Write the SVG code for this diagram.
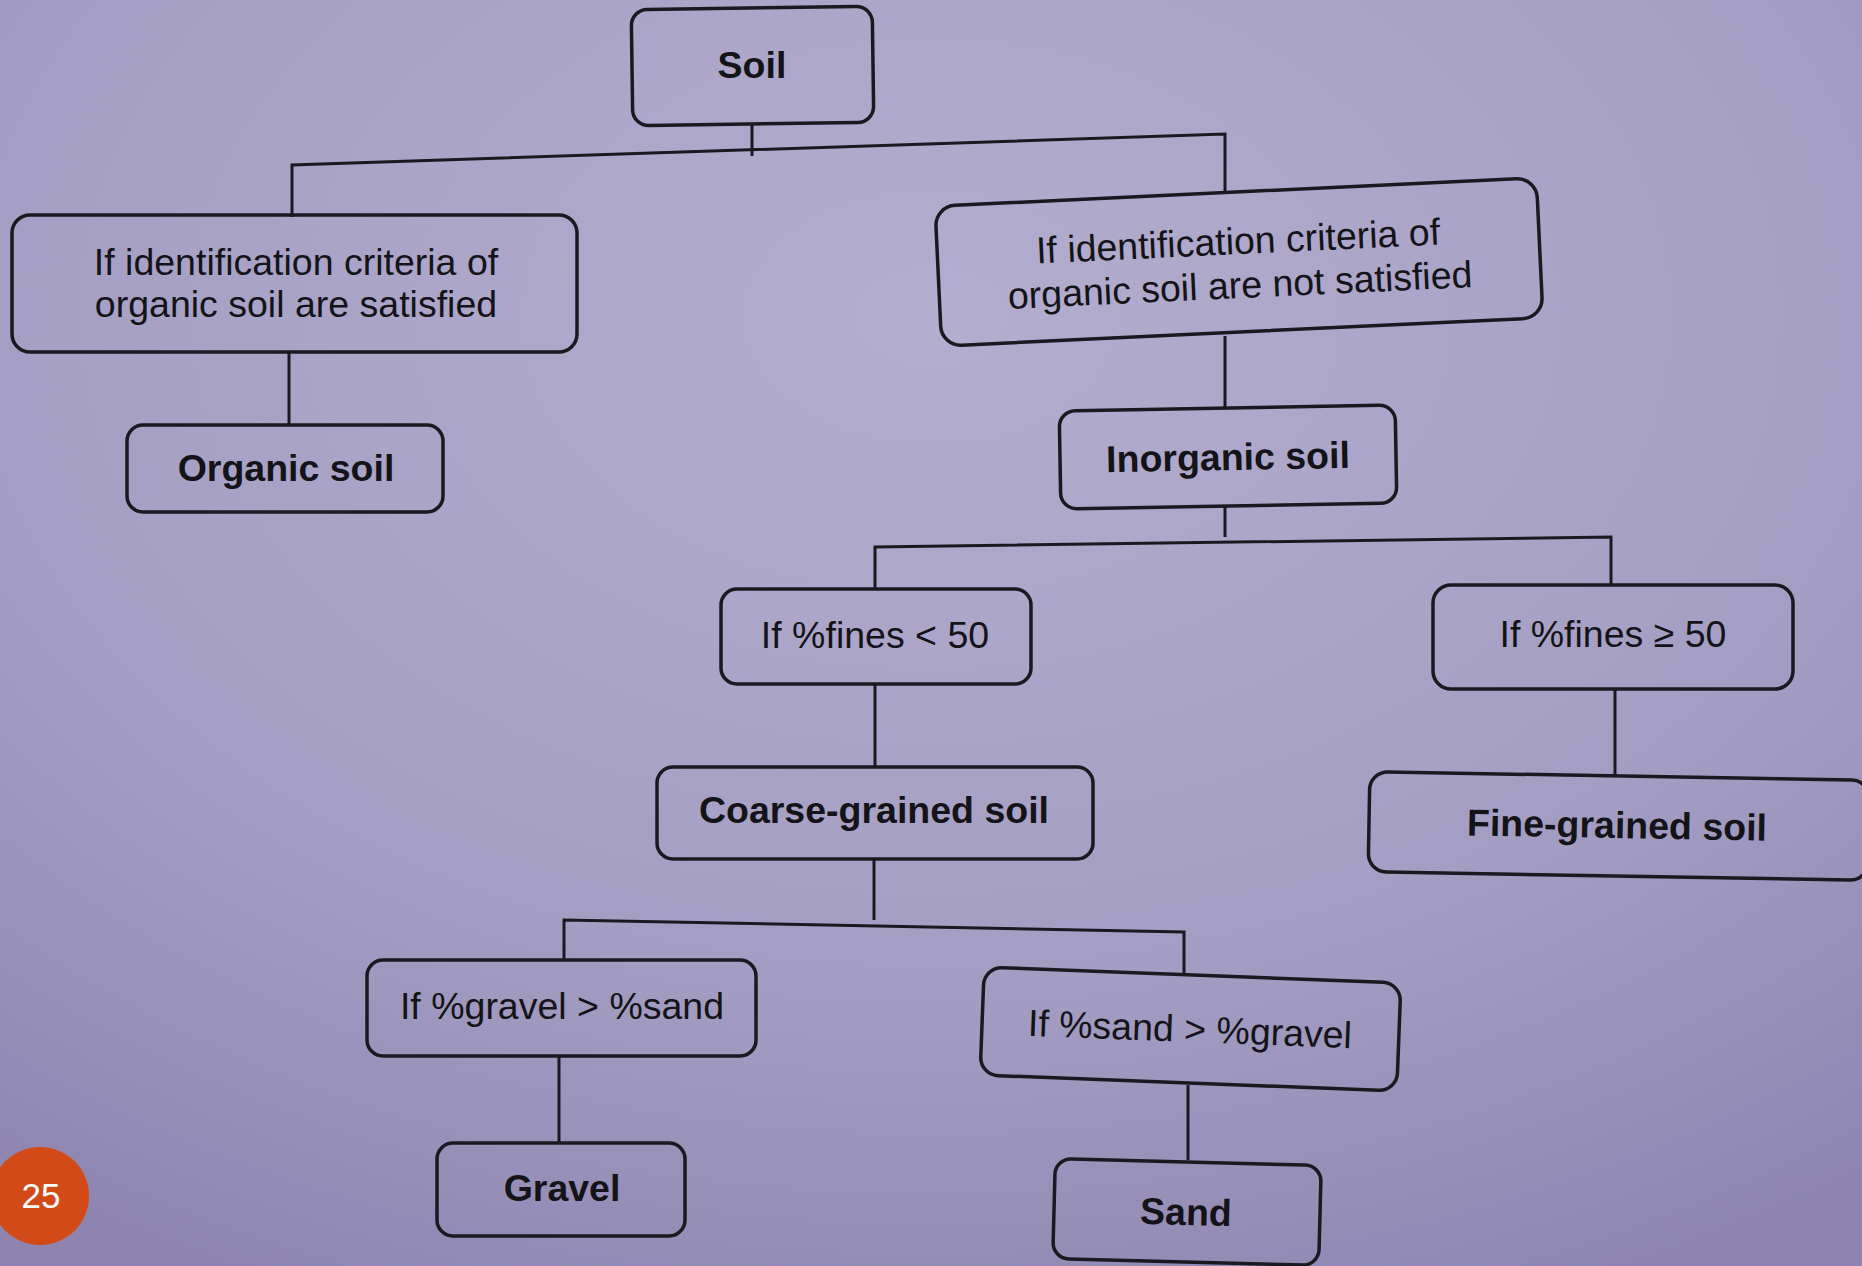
<svg xmlns="http://www.w3.org/2000/svg" width="1862" height="1266" viewBox="0 0 1862 1266">
<defs>
<radialGradient id="bg" cx="0.5" cy="0.25" r="0.85">
<stop offset="0" stop-color="#b3adcf"/>
<stop offset="0.6" stop-color="#a59ec4"/>
<stop offset="1" stop-color="#8d85b0"/>
</radialGradient>
<style>
.box{fill:none;stroke:#1a1920;stroke-width:3.5}
.ln{fill:none;stroke:#1a1920;stroke-width:3}
.t{font-family:"Liberation Sans",Arial,sans-serif;font-size:37.5px;fill:#141317;text-anchor:middle}
.b{font-weight:bold}
</style>
</defs>
<rect width="1862" height="1266" fill="url(#bg)"/>
<g id="connectors">
<path class="ln" d="M752,124 V156"/>
<path class="ln" d="M292,217 V165 L1225,134 V192"/>
<path class="ln" d="M289,352 V425"/>
<path class="ln" d="M1225,336 V408"/>
<path class="ln" d="M1225,506 V537"/>
<path class="ln" d="M875,590 V547 L1611,537 V585"/>
<path class="ln" d="M875,684 V766"/>
<path class="ln" d="M1615,689 V776"/>
<path class="ln" d="M874,859 V920"/>
<path class="ln" d="M564,960 V920 L1184,932 V974"/>
<path class="ln" d="M559,1056 V1142"/>
<path class="ln" d="M1188,1085 V1160"/>
</g>
<g id="n-soil">
<rect class="box" x="632" y="8" width="241" height="116" rx="16" transform="rotate(-0.8 752 66)"/>
<text class="t b" x="752" y="78">Soil</text>
</g>
<g id="n-if-organic">
<rect class="box" x="12" y="215" width="565" height="137" rx="18"/>
<text class="t" x="296" y="275">If identification criteria of</text>
<text class="t" x="296" y="317">organic soil are satisfied</text>
</g>
<g id="n-organic">
<rect class="box" x="127" y="425" width="316" height="87" rx="16"/>
<text class="t b" x="286" y="481">Organic soil</text>
</g>
<g id="n-if-not-organic" transform="rotate(-2.7 1239 262)">
<rect class="box" x="938" y="192" width="602" height="140" rx="20"/>
<text class="t" x="1239" y="254">If identification criteria of</text>
<text class="t" x="1239" y="298">organic soil are not satisfied</text>
</g>
<g id="n-inorganic" transform="rotate(-1 1228 457)">
<rect class="box" x="1060" y="408" width="336" height="98" rx="16"/>
<text class="t b" x="1228" y="470">Inorganic soil</text>
</g>
<g id="n-fines-lt">
<rect class="box" x="721" y="589" width="310" height="95" rx="16"/>
<text class="t" x="875" y="648">If %fines &lt; 50</text>
</g>
<g id="n-fines-ge">
<rect class="box" x="1433" y="585" width="360" height="104" rx="18"/>
<text class="t" x="1613" y="647">If %fines ≥ 50</text>
</g>
<g id="n-coarse">
<rect class="box" x="657" y="767" width="436" height="92" rx="16"/>
<text class="t b" x="874" y="823">Coarse-grained soil</text>
</g>
<g id="n-fine" transform="rotate(1 1617 825)">
<rect class="box" x="1369" y="776" width="500" height="100" rx="18"/>
<text class="t b" x="1617" y="838">Fine-grained soil</text>
</g>
<g id="n-gravel-cond">
<rect class="box" x="367" y="960" width="389" height="96" rx="16"/>
<text class="t" x="562" y="1019">If %gravel &gt; %sand</text>
</g>
<g id="n-sand-cond" transform="rotate(2.2 1190 1029)">
<rect class="box" x="982" y="975" width="417" height="108" rx="18"/>
<text class="t" x="1190" y="1042">If %sand &gt; %gravel</text>
</g>
<g id="n-gravel">
<rect class="box" x="437" y="1143" width="248" height="93" rx="16"/>
<text class="t b" x="562" y="1201">Gravel</text>
</g>
<g id="n-sand" transform="rotate(1.5 1187 1212)">
<rect class="box" x="1054" y="1162" width="266" height="100" rx="16"/>
<text class="t b" x="1186" y="1225">Sand</text>
</g>
<g id="page-number">
<circle cx="40" cy="1196" r="49" fill="#d24a17"/>
<text x="41" y="1208" font-family="Liberation Sans, Arial, sans-serif" font-size="35" font-weight="500" fill="#ffffff" text-anchor="middle">25</text>
</g>
</svg>
